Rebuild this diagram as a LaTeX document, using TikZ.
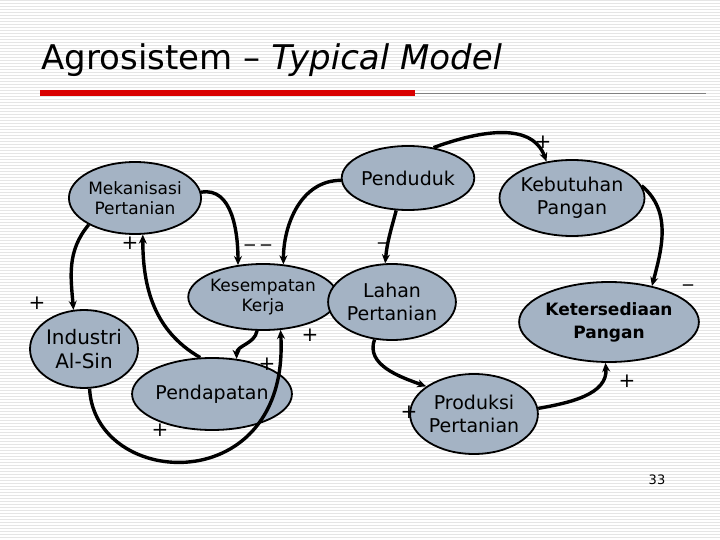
\documentclass[tikz,border=0pt]{standalone}
\usepackage{fontspec}
\setmainfont{DejaVu Sans}
\usetikzlibrary{shapes.geometric,arrows.meta}
\begin{document}
\begin{tikzpicture}[x=1pt,y=-1pt,
  ell/.style={ellipse,draw=black,line width=1.8pt,fill=nodefill,inner sep=0pt,align=center,font=\fontsize{17}{20}\selectfont},
  conn/.style={-{Stealth[length=9pt,width=8pt]},line width=3.4pt},
  sgn/.style={font=\fontsize{20}{20}\selectfont}]
\definecolor{nodefill}{HTML}{A4B3C4}
\useasboundingbox (0,0) rectangle (720,540);
\foreach \y in {0,3,...,540} \draw[black!10,line width=0.5pt] (0,\y) -- (720,\y);
\node[anchor=west,font=\fontsize{34}{36}\selectfont] (title) at (38,60) {Agrosistem – \textit{Typical Model}};
\fill[red!85!black] (40,90) rectangle (415,96);
\draw[gray,line width=0.7pt] (415,93) -- (706,93);
\node[font=\fontsize{13}{13}\selectfont] (pg) at (657,480) {33};

\node[ell,minimum width=114,minimum height=72] (mek) at (135,198) {Mekanisasi\\Pertanian};
\node[ell,minimum width=104,minimum height=64,font=\fontsize{19}{21}\selectfont] (pen) at (408,178) {Penduduk};
\node[ell,minimum width=114,minimum height=76,font=\fontsize{19}{23}\selectfont] (keb) at (572,198) {Kebutuhan\\Pangan};
\node[ell,minimum width=106,minimum height=66] (kes) at (263,297) {Kesempatan\\Kerja};
\node[ell,minimum width=114,minimum height=76,font=\fontsize{19}{23}\selectfont] (lah) at (392,302) {Lahan\\Pertanian};
\node[ell,minimum width=126,minimum height=80,font=\fontsize{17}{23}\selectfont\bfseries] (ket) at (609,322) {Ketersediaan\\Pangan};
\node[ell,minimum width=108,minimum height=78,font=\fontsize{20}{24}\selectfont] (ind) at (84,349) {Industri\\Al-Sin};
\node[ell,minimum width=114,minimum height=72,font=\fontsize{19}{21}\selectfont] (pnd) at (212,394) {Pendapatan};
\node[ell,minimum width=108,minimum height=80,font=\fontsize{19}{23}\selectfont] (pro) at (474,414) {Produksi\\Pertanian};

\draw[conn] (mek.210) to[out=230,in=95] (ind.105);
\draw[conn] (mek.5) to[out=10,in=90] (kes.128);
\draw[conn] (pen.182) to[out=180,in=90] (kes.58);
\draw[conn] (pnd.108) to[out=150,in=-90] (mek.-78);
\draw[conn] (kes.-100) to[out=-100,in=90] (pnd.55);
\draw[conn] (ind.-82) .. controls (95,490) and (290,500) .. (kes.-62);
\draw[conn] (pen.50) to[out=20,in=110] (keb.125);
\draw[conn] (keb.10) to[out=-40,in=75] (ket.40);
\draw[conn] (pro.5) to[out=10,in=-85] (ket.-95);
\draw[conn] (lah.-115) to[out=-110,in=160] (pro.150);
\draw[conn] (pen.-110) to[out=-105,in=85] (lah.100);

\node[sgn] (s1) at (37,303) {+};
\node[sgn] (s2) at (130,243) {+};
\node[sgn] (s3) at (258,244) {\_ \_};
\node[sgn] (s4) at (383,242) {\_};
\node[sgn] (s5) at (543,142) {+};
\node[sgn] (s6) at (688,284) {\_};
\node[sgn] (s7) at (310,335) {+};
\node[sgn] (s8) at (267,364) {+};
\node[sgn] (s9) at (160,430) {+};
\node[sgn] (s10) at (627,381) {+};
\node[sgn] (s11) at (409,412) {+};
\end{tikzpicture}
\end{document}
